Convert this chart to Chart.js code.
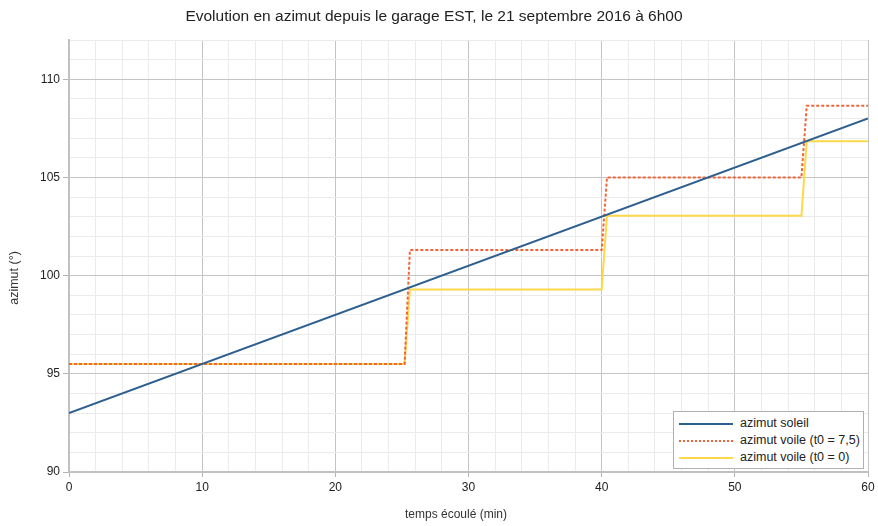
<!DOCTYPE html>
<html>
<head>
<meta charset="utf-8">
<script src="https://cdn.jsdelivr.net/npm/chart.js@4/dist/chart.umd.min.js"></script>
<style>
  html, body { margin: 0; padding: 0; background: #ffffff; }
  #wrap { position: relative; width: 878px; height: 526px; }
  #legend {
    position: absolute; left: 673px; top: 411px; width: 189px; height: 56px;
    border: 1px solid #b0b0b0; background: #ffffff;
    font-family: "Liberation Sans", Arial, sans-serif; font-size: 12.5px; color: #222;
    box-sizing: content-box;
  }
  .row { position: absolute; left: 0; height: 17px; line-height: 17px; white-space: nowrap; }
  .sample { position: absolute; left: 5px; top: 8px; width: 54px; height: 0; }
  .lbl { position: absolute; left: 66px; top: 0; }
</style>
</head>
<body>
<div id="wrap">
  <canvas id="c" width="878" height="526"></canvas>
  <div id="legend"></div>
</div>
<script>
// ---- data ----
const chartTitle = "Evolution en azimut depuis le garage EST, le 21 septembre 2016 à 6h00";
const xAxisTitle = "temps écoulé (min)";
const yAxisTitle = "azimut (°)";

const seriesNames = ["azimut soleil", "azimut voile (t0 = 7,5)", "azimut voile (t0 = 0)"];

const sunTimes   = [0, 60];
const sunAzimuth = [93, 108];

const voile75Times   = [0, 25.2, 25.6, 40.0, 40.4, 55.0, 55.4, 60];
const voile75Azimuth = [95.5, 95.5, 101.3, 101.3, 105.0, 105.0, 108.65, 108.65];

const voile0Times   = [0, 25.2, 25.6, 40.0, 40.4, 55.0, 55.4, 60];
const voile0Azimuth = [95.5, 95.5, 99.3, 99.3, 103.05, 103.05, 106.85, 106.85];

const xTickLabels = [0, 10, 20, 30, 40, 50, 60];
const yTickLabels = [90, 95, 100, 105, 110];

// ---- styles ----
const colors = ["#2d5f8f", "#f26438", "#ffd84a"];
const dashes = [[], [3, 2], []];
const FONT = '"Liberation Sans", Arial, sans-serif';

function toPoints(xs, ys) { return xs.map((x, i) => ({ x: x, y: ys[i] })); }

const seriesData = [
  toPoints(sunTimes, sunAzimuth),
  toPoints(voile75Times, voile75Azimuth),
  toPoints(voile0Times, voile0Azimuth)
];

// drawing order: blue on top, red, yellow below
const drawOrder = [1, 2, 3];

const datasets = seriesNames.map((name, i) => ({
  label: name,
  data: seriesData[i],
  borderColor: colors[i],
  backgroundColor: colors[i],
  borderWidth: 2,
  borderDash: dashes[i],
  pointRadius: 0,
  pointHoverRadius: 0,
  tension: 0,
  fill: false,
  order: drawOrder[i]
}));

const axisTitlesPlugin = {
  id: 'axisTitles',
  afterDraw(chart) {
    const ctx = chart.ctx;
    ctx.save();
    ctx.fillStyle = '#333333';
    ctx.textAlign = 'center';
    ctx.textBaseline = 'middle';
    ctx.font = '12px ' + FONT;
    ctx.fillText(xAxisTitle, 456, 515);
    ctx.font = '12.5px ' + FONT;
    ctx.translate(15, 278);
    ctx.rotate(-Math.PI / 2);
    ctx.fillText(yAxisTitle, 0, 0);
    ctx.restore();
  }
};

const isMajorX = v => xTickLabels.includes(v);
const isMajorY = v => yTickLabels.includes(v);

new Chart(document.getElementById('c'), {
  type: 'line',
  data: { datasets: datasets },
  plugins: [axisTitlesPlugin],
  options: {
    responsive: false,
    animation: false,
    devicePixelRatio: 1,
    layout: { padding: { left: 0, right: 10, top: 0, bottom: 0 } },
    plugins: {
      legend: { display: false },
      tooltip: { enabled: false },
      title: {
        display: true,
        text: chartTitle,
        color: '#222222',
        font: { family: FONT, size: 15.5, weight: 'normal' },
        padding: { top: 7, bottom: 14.4 }
      }
    },
    scales: {
      x: {
        type: 'linear',
        min: 0, max: 60,
        afterFit: s => { s.height = 54; },
        afterBuildTicks: s => { s.ticks = []; for (let v = 0; v <= 60; v += 2) s.ticks.push({ value: v }); },
        ticks: {
          autoSkip: false, maxRotation: 0, padding: 3,
          color: '#222222',
          font: { family: FONT, size: 12 },
          callback: v => isMajorX(v) ? String(v) : ''
        },
        grid: {
          color: ctx => (ctx.tick && isMajorX(ctx.tick.value)) ? '#c4c4c4' : '#ebebeb',
          tickColor: ctx => (ctx.tick && isMajorX(ctx.tick.value)) ? '#b3b3b3' : 'rgba(0,0,0,0)',
          tickLength: 5,
          lineWidth: 1
        },
        border: { color: '#c0c0c0', width: 2 }
      },
      y: {
        type: 'linear',
        min: 90, max: 112,
        afterFit: s => { s.width = 69; },
        afterBuildTicks: s => { s.ticks = []; for (let v = 90; v <= 112; v += 1) s.ticks.push({ value: v }); },
        ticks: {
          autoSkip: false, padding: 3,
          color: '#222222',
          font: { family: FONT, size: 12 },
          callback: v => isMajorY(v) ? String(v) : ''
        },
        grid: {
          color: ctx => (ctx.tick && isMajorY(ctx.tick.value)) ? '#c4c4c4' : '#ebebeb',
          tickColor: ctx => (ctx.tick && isMajorY(ctx.tick.value)) ? '#b3b3b3' : 'rgba(0,0,0,0)',
          tickLength: 6,
          lineWidth: 1
        },
        border: { color: '#c0c0c0', width: 2 }
      }
    }
  }
});

// HTML legend built from the series
const legend = document.getElementById('legend');
seriesNames.forEach((name, i) => {
  const row = document.createElement('div');
  row.className = 'row';
  row.style.top = (3 + i * 17) + 'px';
  row.style.width = '189px';
  const s = document.createElement('div');
  s.className = 'sample';
  s.style.borderTop = '2px ' + (dashes[i].length ? 'dotted' : 'solid') + ' ' + colors[i];
  const l = document.createElement('span');
  l.className = 'lbl';
  l.textContent = name;
  row.appendChild(s); row.appendChild(l);
  legend.appendChild(row);
});
</script>
</body>
</html>
